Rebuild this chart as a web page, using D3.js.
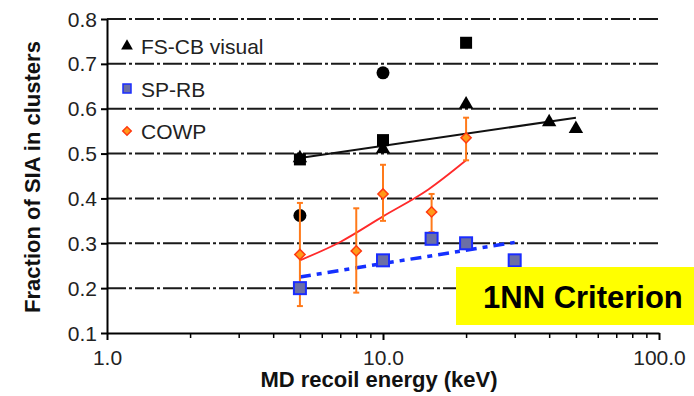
<!DOCTYPE html>
<html>
<head>
<meta charset="utf-8">
<script src="https://cdn.jsdelivr.net/npm/d3@7"></script>
<style>
  body { margin: 0; background: #fff; }
  svg { display: block; font-family: "Liberation Sans", Arial, sans-serif; }
</style>
</head>
<body>
<svg id="chart" width="694" height="396"></svg>
<script>
// data
var yTicks = [0.1, 0.2, 0.3, 0.4, 0.5, 0.6, 0.7, 0.8];
var xTickLabels = ["1.0", "10.0", "100.0"];

var fsTriX = [5, 10, 20, 40, 50];
var fsTriY = [0.49, 0.51, 0.61, 0.57, 0.555];
var blackSqX = [5, 10, 20];
var blackSqY = [0.487, 0.53, 0.747];
var blackCircX = [5, 10];
var blackCircY = [0.362, 0.68];
var fsFitX = [5, 50];
var fsFitY = [0.49, 0.58];

var spX = [5, 10, 15, 20, 30];
var spY = [0.2, 0.262, 0.31, 0.30, 0.262];
var spFitX = [5, 30];
var spFitY = [0.225, 0.302];

var cowpX = [5, 8, 10, 15, 20];
var cowpY = [0.275, 0.283, 0.41, 0.37, 0.535];
var cowpLo = [0.16, 0.19, 0.35, 0.325, 0.485];
var cowpHi = [0.39, 0.378, 0.475, 0.41, 0.58];
var cowpFitX = [5, 7, 10, 14.6, 20];
var cowpFitY = [0.262, 0.303, 0.36, 0.42, 0.485];

var svg = d3.select("#chart");

var x = d3.scaleLog().domain([1, 100]).range([107, 659]);
var y = d3.scaleLinear().domain([0.1, 0.8]).range([333, 19]);

// dash-dot grid
svg.append("g").selectAll("line")
    .data(yTicks.filter(function(d) { return d > 0.1; }))
    .enter().append("line")
    .attr("x1", x(1)).attr("x2", x(100))
    .attr("y1", function(d) { return y(d); })
    .attr("y2", function(d) { return y(d); })
    .attr("stroke", "#1a1a1a")
    .attr("stroke-width", 2)
    .attr("stroke-dasharray", "19,3,3,3");

// axes
var yAxis = d3.axisLeft(y).tickValues(yTicks).tickFormat(d3.format(".1f")).tickSize(6).tickSizeOuter(0).tickPadding(4);
var gy = svg.append("g").attr("transform", "translate(" + x(1) + ",0)").call(yAxis);
gy.select(".domain").attr("stroke", "#000").attr("stroke-width", 2);
gy.selectAll(".tick line").attr("stroke", "#000").attr("stroke-width", 2);
gy.selectAll("text").attr("font-size", 21).attr("fill", "#222").attr("dy", "0.34em");

var minorTicks = [];
[1, 10].forEach(function(base) {
    for (var k = 2; k <= 9; k++) minorTicks.push(base * k);
});
var xAxisMinor = d3.axisBottom(x).tickValues(minorTicks).tickFormat("").tickSize(5).tickSizeOuter(0);
var gxm = svg.append("g").attr("transform", "translate(0," + y(0.1) + ")").call(xAxisMinor);
gxm.selectAll(".tick line").attr("stroke", "#000").attr("stroke-width", 1.5);

var xAxis = d3.axisBottom(x).tickValues([1, 10, 100])
    .tickFormat(function(d, i) { return xTickLabels[i]; })
    .tickSize(7).tickSizeOuter(0).tickPadding(0);
var gx = svg.append("g").attr("transform", "translate(0," + y(0.1) + ")").call(xAxis);
gx.select(".domain").attr("stroke", "#000").attr("stroke-width", 2);
gx.selectAll(".tick line").attr("stroke", "#000").attr("stroke-width", 2);
gx.selectAll("text").attr("font-size", 21).attr("fill", "#222")
    .attr("dy", null).attr("y", 32);

// axis titles
svg.append("text")
    .attr("transform", "translate(40,177) rotate(-90)")
    .attr("text-anchor", "middle")
    .attr("font-size", 22).attr("font-weight", "bold").attr("fill", "#111")
    .text("Fraction of SIA in clusters");

svg.append("text")
    .attr("x", 379).attr("y", 387)
    .attr("text-anchor", "middle")
    .attr("font-size", 22).attr("font-weight", "bold").attr("fill", "#111")
    .text("MD recoil energy (keV)");

var line = d3.line().x(function(d) { return x(d[0]); }).y(function(d) { return y(d[1]); });
function zip(a, b) { return a.map(function(v, i) { return [v, b[i]]; }); }

// fit lines
svg.append("path").datum(zip(fsFitX, fsFitY))
    .attr("d", line).attr("fill", "none").attr("stroke", "#111").attr("stroke-width", 2);

svg.append("path").datum(zip(cowpFitX, cowpFitY))
    .attr("d", line.curve(d3.curveMonotoneX)).attr("fill", "none")
    .attr("stroke", "#ff2a2a").attr("stroke-width", 1.8);
line.curve(d3.curveLinear);

svg.append("path").datum(zip(spFitX, spFitY))
    .attr("d", line).attr("fill", "none").attr("stroke", "#1530ff")
    .attr("stroke-width", 3.5).attr("stroke-dasharray", "11,6,5,6");

// black markers
svg.append("g").selectAll("rect")
    .data(zip(blackSqX, blackSqY)).enter().append("rect")
    .attr("x", function(d) { return x(d[0]) - 6; })
    .attr("y", function(d) { return y(d[1]) - 6; })
    .attr("width", 12).attr("height", 12).attr("fill", "#000");

svg.append("g").selectAll("circle")
    .data(zip(blackCircX, blackCircY)).enter().append("circle")
    .attr("cx", function(d) { return x(d[0]); })
    .attr("cy", function(d) { return y(d[1]); })
    .attr("r", 6.5).attr("fill", "#000");

var tri = d3.symbol().type(d3.symbolTriangle).size(90);
svg.append("g").selectAll("path")
    .data(zip(fsTriX, fsTriY)).enter().append("path")
    .attr("d", tri)
    .attr("transform", function(d) { return "translate(" + x(d[0]) + "," + y(d[1]) + ")"; })
    .attr("fill", "#000");

// COWP error bars
var err = svg.append("g").attr("stroke", "#ff7a1a").attr("stroke-width", 2);
cowpX.forEach(function(v, i) {
    var cx = x(v);
    err.append("line").attr("x1", cx).attr("x2", cx).attr("y1", y(cowpLo[i])).attr("y2", y(cowpHi[i]));
    err.append("line").attr("x1", cx - 3).attr("x2", cx + 3).attr("y1", y(cowpLo[i])).attr("y2", y(cowpLo[i]));
    err.append("line").attr("x1", cx - 3).attr("x2", cx + 3).attr("y1", y(cowpHi[i])).attr("y2", y(cowpHi[i]));
});

// SP-RB squares
svg.append("g").selectAll("rect")
    .data(zip(spX, spY)).enter().append("rect")
    .attr("x", function(d) { return x(d[0]) - 6; })
    .attr("y", function(d) { return y(d[1]) - 6; })
    .attr("width", 12).attr("height", 12)
    .attr("fill", "#6b6fa6").attr("stroke", "#1a2cff").attr("stroke-width", 2);

// COWP diamonds (squares turned 45 degrees)
var dia = d3.symbol().type(d3.symbolSquare).size(52);
svg.append("g").selectAll("path")
    .data(zip(cowpX, cowpY)).enter().append("path")
    .attr("d", dia)
    .attr("transform", function(d) { return "translate(" + x(d[0]) + "," + y(d[1]) + ") rotate(45)"; })
    .attr("fill", "#ff9a1a").attr("stroke", "#ff3a10").attr("stroke-width", 1.5);

// legend
var legend = svg.append("g");
legend.append("path").attr("d", d3.symbol().type(d3.symbolTriangle).size(60))
    .attr("transform", "translate(127,46)").attr("fill", "#000");
legend.append("rect").attr("x", 123).attr("y", 84).attr("width", 8).attr("height", 9)
    .attr("fill", "#6b6fa6").attr("stroke", "#1a2cff").attr("stroke-width", 1.5);
legend.append("path").attr("d", d3.symbol().type(d3.symbolSquare).size(36))
    .attr("transform", "translate(127,131) rotate(45)")
    .attr("fill", "#ff9a1a").attr("stroke", "#ff3a10").attr("stroke-width", 1.5);
var legNames = ["FS-CB visual", "SP-RB", "COWP"];
var legY = [46, 89, 131];
legend.selectAll("text").data(legNames).enter().append("text")
    .attr("x", 141).attr("y", function(d, i) { return legY[i] + 8; })
    .attr("font-size", 21).attr("fill", "#222")
    .text(function(d) { return d; });

// yellow label box
svg.append("rect").attr("x", 456).attr("y", 267).attr("width", 238).attr("height", 58).attr("fill", "#ffff00");
svg.append("text").attr("x", 483).attr("y", 308)
    .attr("font-size", 31).attr("font-weight", "bold").attr("fill", "#000")
    .text("1NN Criterion");
</script>
</body>
</html>
